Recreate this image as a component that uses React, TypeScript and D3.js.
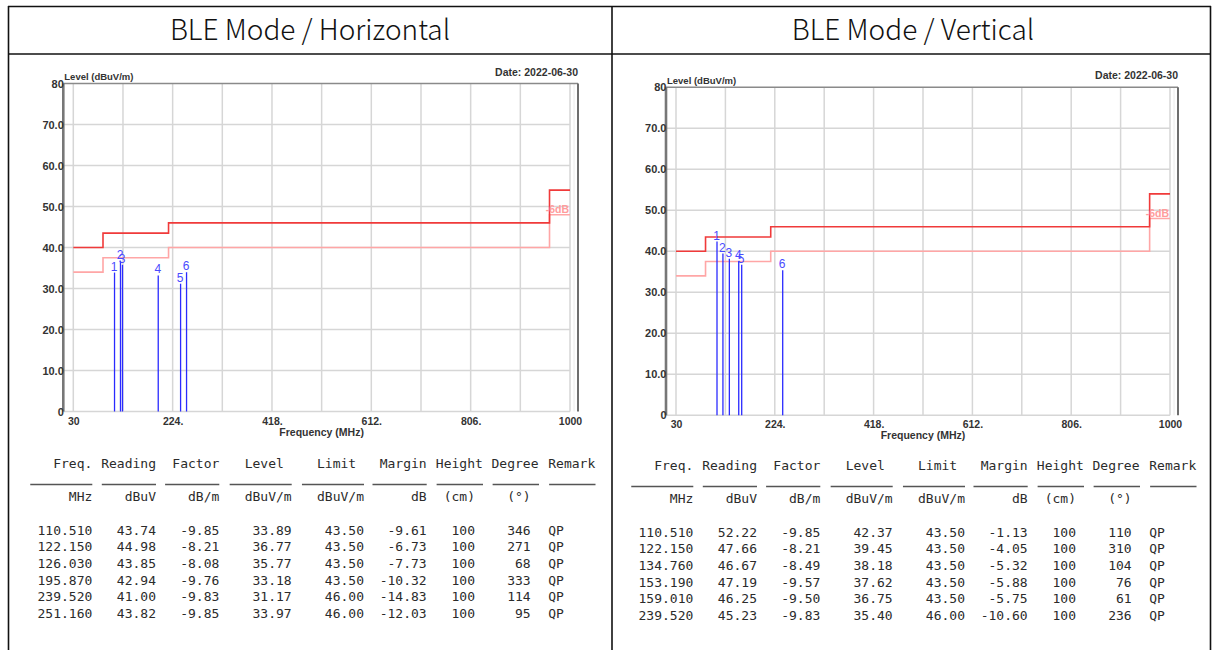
import React from 'react';
import * as d3 from 'd3';

// Axis ticks
const freqGrid = [30, 127, 224, 321, 418, 515, 612, 709, 806, 903, 1000];
const freqTicks = [30, 224, 418, 612, 806, 1000];
const freqTickLabels = ['30', '224.', '418.', '612.', '806.', '1000'];
const levelTicks = [0, 10, 20, 30, 40, 50, 60, 70, 80];
const levelTickLabels = ['0', '10.0', '20.0', '30.0', '40.0', '50.0', '60.0', '70.0', '80'];

// FCC class B limit and the -6 dB reference line (step edges in MHz)
const limitEdges = [30, 88, 216, 960, 1000];
const limitLevels = [40, 43.5, 46, 54, 54];
const limitMinus6Levels = [34, 37.5, 40, 48, 48];

// Horizontal polarization measurements
const hFreq = ['110.510', '122.150', '126.030', '195.870', '239.520', '251.160'];
const hReading = ['43.74', '44.98', '43.85', '42.94', '41.00', '43.82'];
const hFactor = ['-9.85', '-8.21', '-8.08', '-9.76', '-9.83', '-9.85'];
const hLevel = ['33.89', '36.77', '35.77', '33.18', '31.17', '33.97'];
const hLimit = ['43.50', '43.50', '43.50', '43.50', '46.00', '46.00'];
const hMargin = ['-9.61', '-6.73', '-7.73', '-10.32', '-14.83', '-12.03'];
const hHeight = ['100', '100', '100', '100', '100', '100'];
const hDegree = ['346', '271', '68', '333', '114', '95'];
const hRemark = ['QP', 'QP', 'QP', 'QP', 'QP', 'QP'];

// Vertical polarization measurements
const vFreq = ['110.510', '122.150', '134.760', '153.190', '159.010', '239.520'];
const vReading = ['52.22', '47.66', '46.67', '47.19', '46.25', '45.23'];
const vFactor = ['-9.85', '-8.21', '-8.49', '-9.57', '-9.50', '-9.83'];
const vLevel = ['42.37', '39.45', '38.18', '37.62', '36.75', '35.40'];
const vLimit = ['43.50', '43.50', '43.50', '43.50', '43.50', '46.00'];
const vMargin = ['-1.13', '-4.05', '-5.32', '-5.88', '-5.75', '-10.60'];
const vHeight = ['100', '100', '100', '100', '100', '100'];
const vDegree = ['110', '310', '104', '76', '61', '236'];
const vRemark = ['QP', 'QP', 'QP', 'QP', 'QP', 'QP'];

const headers = ['Freq.', 'Reading', 'Factor', 'Level', 'Limit', 'Margin', 'Height', 'Degree', 'Remark'];
const units = ['MHz', 'dBuV', 'dB/m', 'dBuV/m', 'dBuV/m', 'dB', '(cm)', '(°)', ''];

const CHART_FONT = 'Arial, "Liberation Sans", sans-serif';
const MONO = '"DejaVu Sans Mono", "Liberation Mono", monospace';
const CW = 7.83;

type ChartProps = {
  x0: number;
  x1: number;
  yTop: number;
  yBottom: number;
  freqs: string[];
  levels: string[];
};

function SpectrumChart({ x0, x1, yTop, yBottom, freqs, levels }: ChartProps) {
  const x = d3.scaleLinear().domain([30, 1000]).range([x0, x1]);
  const y = d3.scaleLinear().domain([0, 80]).range([yBottom, yTop]);
  const axisX = x0 - 10;
  const frameR = x1 + 8;

  const step = d3
    .line<number>()
    .x((_, i) => x(limitEdges[i]))
    .y((d) => y(d))
    .curve(d3.curveStepAfter);

  return (
    <g>
      {/* grid */}
      {levelTicks.slice(1, -1).map((t) => (
        <line key={'h' + t} x1={axisX} x2={x1} y1={y(t)} y2={y(t)} stroke="#d6d6d6" strokeWidth={1.5} />
      ))}
      {freqGrid.map((f) => (
        <line key={'v' + f} x1={x(f)} x2={x(f)} y1={yTop} y2={yBottom} stroke="#d6d6d6" strokeWidth={1.5} />
      ))}
      <line x1={axisX} x2={x1} y1={yBottom} y2={yBottom} stroke="#d6d6d6" strokeWidth={1.5} />
      <line x1={x1 + 4} x2={x1 + 4} y1={yTop} y2={yBottom} stroke="#ececec" strokeWidth={1} />

      {/* frame */}
      <line x1={axisX} x2={frameR} y1={yTop} y2={yTop} stroke="#8a8a8a" strokeWidth={1.6} />
      <line x1={frameR} x2={frameR} y1={yTop} y2={yBottom} stroke="#6e6e6e" strokeWidth={2} />
      <line x1={axisX} x2={axisX} y1={yTop} y2={yBottom} stroke="#777" strokeWidth={2.6} />

      {/* limit lines */}
      <path d={step(limitMinus6Levels) || ''} fill="none" stroke="#ffa6a6" strokeWidth={1.6} />
      <path d={step(limitLevels) || ''} fill="none" stroke="#f03a3a" strokeWidth={1.6} />
      <text
        x={x(1000) - 1}
        y={y(limitMinus6Levels[3]) - 1.5}
        textAnchor="end"
        fontFamily={CHART_FONT}
        fontWeight="bold"
        fontSize={10.5}
        fill="#ff9c9c"
      >
        -6dB
      </text>

      {/* measured peaks */}
      {freqs.map((f, i) => {
        const fx = x(+f);
        const ly = y(+levels[i]);
        return (
          <g key={'m' + i}>
            <line x1={fx} x2={fx} y1={yBottom} y2={ly} stroke="#2a2aff" strokeWidth={1.3} />
            <text
              x={fx - 0.5}
              y={ly - 2}
              textAnchor="middle"
              fontFamily={CHART_FONT}
              fontSize={12}
              fill="#4a4aff"
            >
              {i + 1}
            </text>
          </g>
        );
      })}

      {/* y tick labels */}
      {levelTicks.map((t, i) => (
        <text
          key={'yl' + t}
          x={axisX + 0.5}
          y={y(t) + 4}
          textAnchor="end"
          fontFamily={CHART_FONT}
          fontWeight="bold"
          fontSize={11}
          fill="#333"
        >
          {levelTickLabels[i]}
        </text>
      ))}

      {/* x tick labels */}
      {freqTicks.map((t, i) => (
        <text
          key={'xl' + t}
          x={x(t) + 0.5}
          y={yBottom + 13}
          textAnchor="middle"
          fontFamily={CHART_FONT}
          fontWeight="bold"
          fontSize={10.5}
          fill="#333"
        >
          {freqTickLabels[i]}
        </text>
      ))}

      <text x={(x0 + x1) / 2} y={yBottom + 24} textAnchor="middle" fontFamily={CHART_FONT} fontWeight="bold" fontSize={10.5} fill="#333">
        Frequency (MHz)
      </text>
      <text x={axisX + 1} y={yTop - 3.5} fontFamily={CHART_FONT} fontWeight="bold" fontSize={9.5} fill="#333">
        Level (dBuV/m)
      </text>
      <text x={frameR} y={yTop - 8} textAnchor="end" fontFamily={CHART_FONT} fontWeight="bold" fontSize={10.5} fill="#333">
        Date: 2022-06-30
      </text>
    </g>
  );
}

// Right edges of each column (left panel coordinates); Remark is left-aligned
const colRight = [92.3, 156, 219.3, 291.7, 364, 426.7, 475, 530.7, 548.3];
const headerPad = [0, 0, 0, 1, 1, 0, -1, -1, 0];
const underlineRight = [92.3, 156, 219.3, 291.7, 364, 426.7, 483, 539, 595.5];
const underlineChars = [8, 7, 7, 8, 8, 7, 6, 6, 6];

type TableProps = {
  dx: number;
  dy: number;
  cols: string[][];
};

function ResultTable({ dx, dy, cols }: TableProps) {
  const headerY = 467.5 + dy;
  const ruleY = 484.5 + dy;
  const unitY = 501.4 + dy;
  const rowY0 = 534.7 + dy;
  const rowH = 16.62;
  const txt = { fontFamily: MONO, fontSize: 13, fill: '#2b2b2b' } as const;
  return (
    <g>
      {headers.map((h, c) => {
        const isRemark = c === 8;
        return (
          <text
            key={'hd' + c}
            x={dx + (isRemark ? colRight[c] : colRight[c] - headerPad[c] * CW)}
            y={headerY}
            textAnchor={isRemark ? 'start' : 'end'}
            {...txt}
          >
            {h}
          </text>
        );
      })}
      {underlineRight.map((r, c) => (
        <line
          key={'ul' + c}
          x1={dx + r - underlineChars[c] * CW + 0.6}
          x2={dx + r}
          y1={ruleY}
          y2={ruleY}
          stroke="#555"
          strokeWidth={1.3}
        />
      ))}
      {units.map((u, c) =>
        u ? (
          <text key={'un' + c} x={dx + colRight[c]} y={unitY} textAnchor="end" {...txt}>
            {u}
          </text>
        ) : null
      )}
      {cols.map((col, c) =>
        col.map((v, r) => (
          <text
            key={'c' + c + 'r' + r}
            x={dx + colRight[c]}
            y={rowY0 + r * rowH}
            textAnchor={c === 8 ? 'start' : 'end'}
            {...txt}
          >
            {v}
          </text>
        ))
      )}
    </g>
  );
}

export default function App() {
  const titleFont = '"Noto Sans CJK TC", "Noto Sans", sans-serif';
  return (
    <svg
      width={1213}
      height={650}
      viewBox="0 0 1213 650"
      style={{ position: 'absolute', left: 0, top: 0, background: '#fff' }}
    >
      <rect x={0} y={0} width={1213} height={650} fill="#fff" />

      {/* outer table */}
      <line x1={8} x2={1211} y1={6.5} y2={6.5} stroke="#111" strokeWidth={1.6} />
      <line x1={8} x2={1211} y1={54} y2={54} stroke="#111" strokeWidth={1.6} />
      <line x1={8.5} x2={8.5} y1={6} y2={650} stroke="#111" strokeWidth={1.6} />
      <line x1={612} x2={612} y1={6} y2={650} stroke="#111" strokeWidth={1.6} />
      <line x1={1210.5} x2={1210.5} y1={6} y2={650} stroke="#111" strokeWidth={1.6} />

      <text x={310} y={40} textAnchor="middle" fontFamily={titleFont} fontWeight={300} fontSize={28} fill="#111">
        BLE Mode / Horizontal
      </text>
      <text x={913} y={40} textAnchor="middle" fontFamily={titleFont} fontWeight={300} fontSize={28} fill="#111">
        BLE Mode / Vertical
      </text>

      <SpectrumChart x0={73.3} x1={570} yTop={83.5} yBottom={411.5} freqs={hFreq} levels={hLevel} />
      <SpectrumChart x0={676} x1={1170} yTop={87.3} yBottom={415.3} freqs={vFreq} levels={vLevel} />

      <ResultTable
        dx={0}
        dy={0}
        cols={[hFreq, hReading, hFactor, hLevel, hLimit, hMargin, hHeight, hDegree, hRemark]}
      />
      <ResultTable
        dx={601}
        dy={2}
        cols={[vFreq, vReading, vFactor, vLevel, vLimit, vMargin, vHeight, vDegree, vRemark]}
      />
    </svg>
  );
}
